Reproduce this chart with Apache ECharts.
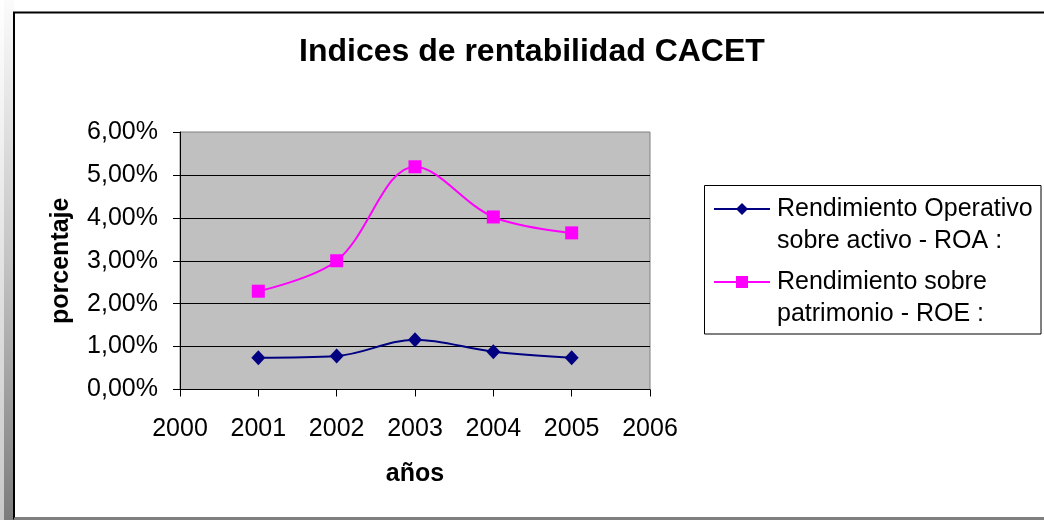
<!DOCTYPE html>
<html>
<head>
<meta charset="utf-8">
<script src="https://cdn.jsdelivr.net/npm/echarts@6/dist/echarts.min.js"></script>
<style>
html,body{margin:0;padding:0;background:#fff;}
#chart{width:1044px;height:520px;}
</style>
</head>
<body>
<div id="chart"></div>
<script>
const years = [2001, 2002, 2003, 2004, 2005];
const roa = [0.74, 0.78, 1.16, 0.88, 0.74];
const roe = [2.29, 3.00, 5.19, 4.02, 3.65];
const seriesNames = ['Rendimiento Operativo\nsobre activo - ROA :', 'Rendimiento sobre\npatrimonio - ROE :'];
const titleText = 'Indices de rentabilidad CACET';
const xName = 'años';
const yName = 'porcentaje';

const FONT = '"Liberation Sans", Arial, sans-serif';
const chart = echarts.init(document.getElementById('chart'), null, {renderer: 'canvas'});

const option = {
  animation: false,
  backgroundColor: '#ffffff',
  textStyle: {fontFamily: FONT},
  title: {
    text: titleText,
    left: 299,
    top: 36,
    padding: 0,
    textStyle: {fontFamily: FONT, fontSize: 32, fontWeight: 'bold', color: '#000'}
  },
  graphic: [
    {type: 'rect', z: 0, silent: true,
     shape: {x: 0, y: 0, width: 4, height: 520},
     style: {fill: new echarts.graphic.LinearGradient(0, 0, 0, 1, [{offset: 0, color: '#ffffff'}, {offset: 1, color: '#c8c8c8'}])}},
    {type: 'rect', z: 0, silent: true,
     shape: {x: 4, y: 0, width: 10, height: 520},
     style: {fill: new echarts.graphic.LinearGradient(0, 0, 0, 1, [{offset: 0, color: '#fbfbfb'}, {offset: 0.5, color: '#c4c4c4'}, {offset: 1, color: '#7c7c7c'}])}},
    {type: 'rect', z: 0, silent: true,
     shape: {x: 14, y: 12.5, width: 1040, height: 506},
     style: {fill: 'none', stroke: '#000', lineWidth: 2}},
    {type: 'line', z: 1, silent: true,
     shape: {x1: 14, y1: 518.5, x2: 1044, y2: 518.5},
     style: {stroke: '#808080', lineWidth: 2}},
    {type: 'rect', z: 1, silent: true,
     shape: {x: 704.5, y: 185.5, width: 336.5, height: 148.5},
     style: {fill: '#fff', stroke: '#000', lineWidth: 1}}
  ],
  legend: {
    left: 713,
    top: 161,
    padding: 0,
    orient: 'vertical',
    itemWidth: 56,
    itemHeight: 15,
    itemGap: -23,
    selectedMode: false,
    formatter: name => '\n' + name,
    textStyle: {fontFamily: FONT, fontSize: 25, lineHeight: 32, color: '#000', padding: [0, 0, 0, 2]},
    data: seriesNames
  },
  grid: {
    left: 180, top: 132, right: 394, bottom: 130.5,
    show: true, backgroundColor: '#c0c0c0', borderColor: '#808080', borderWidth: 1
  },
  xAxis: {
    type: 'value', min: 2000, max: 2006, interval: 1,
    name: xName, nameLocation: 'middle', nameGap: 72,
    nameTextStyle: {fontFamily: FONT, fontSize: 25, fontWeight: 'bold', color: '#000'},
    axisLine: {show: true, onZero: false, lineStyle: {color: '#000', width: 1}},
    axisTick: {show: true, inside: false, length: 7, lineStyle: {color: '#000'}},
    axisLabel: {fontFamily: FONT, fontSize: 25, color: '#000', margin: 27, formatter: v => String(v)},
    splitLine: {show: false}
  },
  yAxis: {
    type: 'value', min: 0, max: 6, interval: 1,
    name: yName, nameLocation: 'middle', nameGap: 106, nameRotate: 90,
    nameTextStyle: {fontFamily: FONT, fontSize: 25, fontWeight: 'bold', color: '#000'},
    axisLine: {show: true, lineStyle: {color: '#000', width: 1}},
    axisTick: {show: true, inside: false, length: 7, lineStyle: {color: '#000'}},
    axisLabel: {fontFamily: FONT, fontSize: 25, color: '#000', margin: 22, formatter: v => v.toFixed(2).replace('.', ',') + '%'},
    splitLine: {show: true, showMaxLine: false, lineStyle: {color: '#000', width: 1}}
  },
  series: [
    {
      name: seriesNames[0], type: 'line', smooth: 0.35,
      data: years.map((y, i) => [y, roa[i]]),
      symbol: 'diamond', symbolSize: [14, 15],
      lineStyle: {color: '#000080', width: 2},
      itemStyle: {color: '#000080'}
    },
    {
      name: seriesNames[1], type: 'line', smooth: 0.35,
      data: years.map((y, i) => [y, roe[i]]),
      symbol: 'rect', symbolSize: 13,
      lineStyle: {color: '#ff00ff', width: 2},
      itemStyle: {color: '#ff00ff'}
    }
  ]
};
chart.setOption(option);
</script>
</body>
</html>
